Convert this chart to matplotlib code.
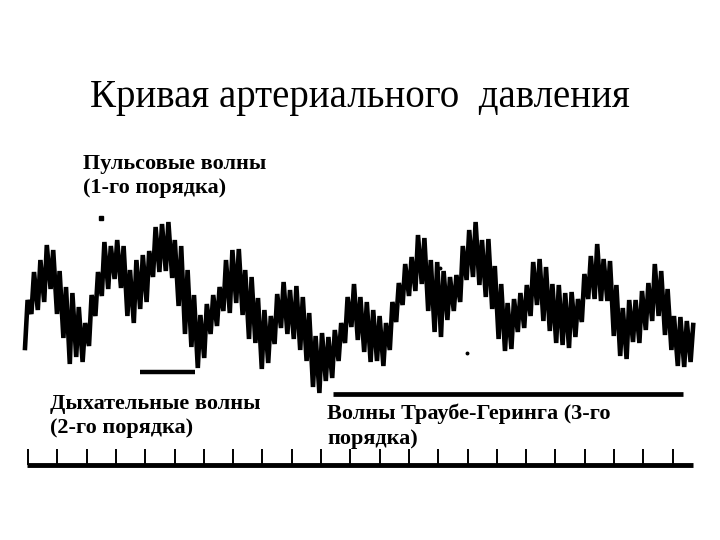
import matplotlib.pyplot as plt
import numpy as np

plt.rcParams['font.family'] = ['Liberation Serif', 'DejaVu Serif']

# уровень систолы (пик) каждого удара, мм от нижнего края листа
peaks = [240, 268, 280, 295, 290, 269, 253, 247, 233, 217,
         245, 268, 298, 294, 300, 294, 270, 280, 285, 289,
         313, 316, 318, 300, 294, 270, 245, 225, 236, 245,
         253, 280, 290, 291, 270, 263, 242, 230, 224, 246,
         258, 250, 254, 243, 227, 204, 207, 203, 210, 217,
         243, 256, 243, 238, 230, 224, 217, 238, 257, 276,
         283, 305, 302, 280, 278, 269, 263, 265, 294, 310,
         318, 300, 301, 274, 256, 237, 241, 247, 255, 278,
         281, 273, 256, 255, 247, 248, 241, 266, 284, 296,
         281, 279, 255, 232, 240, 240, 249, 257, 276, 269,
         251, 224, 223, 219, 215]
# уровень диастолы (впадина) перед каждым ударом
troughs = [192, 226, 230, 238, 251, 226, 202, 176, 183, 178,
           194, 224, 244, 251, 261, 252, 224, 217, 231, 238,
           263, 268, 269, 262, 234, 206, 193, 172, 182, 206,
           214, 229, 227, 237, 225, 201, 197, 171, 177, 196,
           212, 206, 201, 190, 179, 153, 147, 159, 162, 179,
           197, 213, 200, 188, 178, 179, 174, 190, 218, 235,
           244, 249, 256, 229, 208, 203, 220, 229, 238, 260,
           263, 255, 243, 231, 201, 189, 191, 208, 212, 224,
           235, 219, 209, 197, 195, 192, 203, 218, 241, 241,
           239, 239, 204, 184, 181, 198, 197, 210, 219, 224,
           205, 190, 174, 173, 178]

# отметки времени, с
time_marks = list(range(23))

beat_start = 25
beat_step = 6.4
mm_per_sec = 29.3
t0 = 28

beat_x = beat_start + beat_step * np.arange(len(peaks))
xs = np.column_stack([beat_x, beat_x + 2.6]).ravel()
ys = np.column_stack([troughs, peaks]).ravel()

fig = plt.figure(figsize=(7.2, 5.4), dpi=100)
ax = fig.add_axes([0, 0, 1, 1])
ax.set_xlim(0, 720)
ax.set_ylim(0, 540)
ax.axis('off')

ax.plot(xs, ys, color='black', lw=3.3, solid_joinstyle='miter')

# метки периодов
ax.plot([140, 195], [168, 168], color='black', lw=3.2, solid_capstyle='butt')
ax.plot([333, 683], [146, 146], color='black', lw=3.4, solid_capstyle='butt')
ax.plot([101], [322], 's', color='black', ms=3.5)
ax.plot([440, 467], [272, 187], 'o', color='black', ms=1.8)

# отметчик времени
ax.plot([27, 693], [75, 75], color='black', lw=3.5, solid_capstyle='butt')
mark_x = t0 + mm_per_sec * np.array(time_marks)
ax.vlines(mark_x, 75, 91, color='black', lw=1.4)

ax.text(360, 443, 'Кривая артериального  давления', ha='center', va='center',
        fontsize=28)
lab = dict(fontsize=16, fontweight='bold', va='top', ha='left', linespacing=1.3)
ax.text(83, 386, 'Пульсовые волны\n(1-го порядка)', **lab)
ax.text(50, 146, 'Дыхательные волны\n(2-го порядка)', **lab)
ax.text(327, 136, 'Волны Траубе-Геринга (3-го\nпорядка)', **lab)

fig.savefig('out.png', dpi=100, facecolor='white')
